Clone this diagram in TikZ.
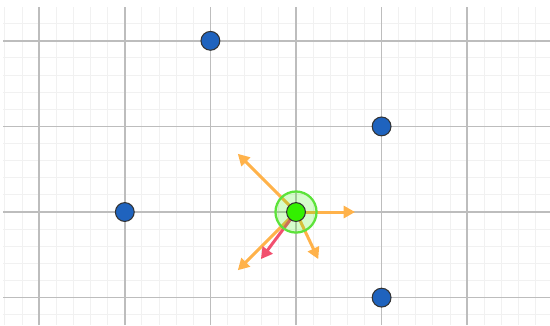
\documentclass[tikz,border=0pt]{standalone}
\usetikzlibrary{arrows.meta}
\definecolor{minorgray}{HTML}{F1F1F1}
\definecolor{majorgray}{HTML}{BDBDBD}
\definecolor{nodeblue}{HTML}{1F63BE}
\definecolor{forceorange}{HTML}{FFB24A}
\definecolor{sumred}{HTML}{F2506F}
\definecolor{limegreen}{HTML}{33F000}
\definecolor{ringgreen}{HTML}{5CE33A}
\begin{document}
\begin{tikzpicture}[>={Triangle[length=3.8pt,width=4pt]},
dot/.style={circle,draw=black!80,line width=.35pt,inner sep=0pt,minimum size=2.2mm},
force/.style={->,draw=forceorange,line width=1pt},
net/.style={->,draw=sumred,line width=1pt}]
\useasboundingbox (-3.458,-1.320) rectangle (2.967,2.477);
\draw[minorgray,line width=.35pt,step=0.2] (-3.42,-1.32) grid (2.967,2.395);
\draw[majorgray,line width=.5pt,step=1] (-3.42,-1.32) grid (2.967,2.395);
\node[dot,fill=nodeblue] (a) at (-1,2) {};
\node[dot,fill=nodeblue] (b) at (1,1) {};
\node[dot,fill=nodeblue] (c) at (-2,0) {};
\node[dot,fill=nodeblue] (d) at (1,-1) {};
\coordinate (f1) at (-0.68,0.68);
\coordinate (f2) at (0.69,0);
\coordinate (f3) at (0.26,-0.55);
\coordinate (f4) at (-0.68,-0.68);
\coordinate (fs) at (-0.41,-0.55);
\coordinate (m) at (0,0);
\draw[force] (m)--(f1);\draw[force] (m)--(f2);
\draw[force] (m)--(f3);\draw[force] (m)--(f4);
\draw[net] (m)--(fs);
\node[circle,draw=ringgreen,fill=limegreen,fill opacity=.2,line width=.75pt,minimum size=4.8mm,inner sep=0pt] (halo) at (m) {};
\node[dot,fill=limegreen] (v) at (m) {};
\end{tikzpicture}
\end{document}
